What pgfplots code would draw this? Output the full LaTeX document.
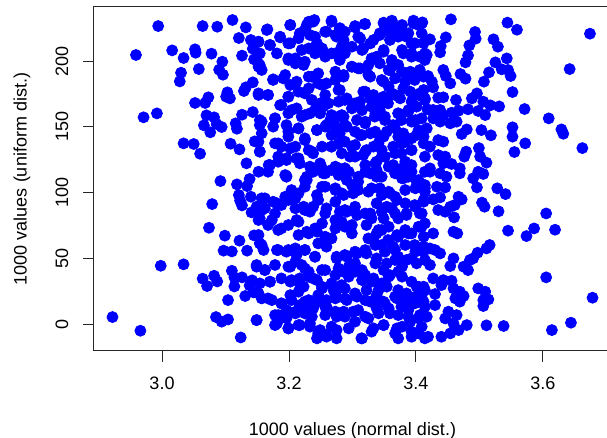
\documentclass[border=0pt]{standalone}
\usepackage{fontspec}
\setmainfont{Liberation Sans}
\usepackage{pgfplots}
\pgfplotsset{compat=1.18}

\begin{document}
\fontsize{9}{11}\selectfont
\begin{tikzpicture}
\begin{axis}[
    scale only axis,
    width=258.5pt, height=172pt,
    xmin=2.8929, xmax=3.7071,
    ymin=-20.5, ymax=241.1,
    axis line style={black!85, line width=0.5pt},
    tick style={black!85, line width=0.5pt},
    tick align=outside, tick pos=left,
    major tick length=5.5pt,
    xtick={3.0,3.2,3.4,3.6}, xticklabels={3.0,3.2,3.4,3.6},
    ytick={0,50,100,150,200}, yticklabels={0,50,100,150,200},
    x tick label style={anchor=center, yshift=-10.5pt},
    y tick label style={anchor=center, xshift=-10.5pt, rotate=90},
    xlabel={1000 values (normal dist.)},
    ylabel={1000 values (uniform dist.)},
    xlabel style={at={(axis description cs:0.5,0)}, anchor=center, yshift=-40pt},
    ylabel style={at={(axis description cs:0,0.5)}, anchor=center, yshift=36pt},
    clip=false,
]
\addplot[only marks, mark=*, mark size=2.75pt, draw=blue, fill=blue] coordinates {
% left, upper
(2.994,226.6) (3.064,226.6) (3.087,226.1) (3.111,231.2) (3.132,225.6) (3.121,217.5)
(3.140,216.0) (3.143,209.4) (2.959,204.6) (3.016,208.1) (3.034,202.3) (3.052,208.9)
(3.053,206.3) (3.078,205.6) (3.095,199.5) (3.126,204.1) (3.145,201.3) (3.030,191.1)
(3.028,184.5) (3.058,193.9) (3.090,193.4) (3.096,189.6) (3.143,183.8) (3.132,180.0)
(3.129,177.2) (3.103,176.2) (3.101,172.9) (3.107,171.6) (3.073,172.4) (3.068,168.1)
(3.052,168.1) (3.143,161.2) (3.126,159.2) (3.070,158.7) (3.082,157.2) (3.086,152.1)
(3.094,149.8) (3.066,151.1) (3.076,145.8) (3.116,152.6) (3.118,148.5) (2.971,157.2)
(2.992,160.2) (3.034,137.4) (3.050,136.9) (3.060,129.5) (3.108,137.1) (3.122,132.8)
(3.146,138.9) (3.133,122.2)
% left, lower
(3.092,108.7) (3.118,106.2) (3.134,104.9) (3.138,110.3) (3.121,98.1) (3.123,93.8)
(3.126,90.2) (3.140,96.8) (3.079,91.2) (3.141,84.9) (3.074,73.2) (3.099,67.2)
(3.122,63.4) (3.145,67.4) (3.097,55.8) (3.110,55.2) (3.134,55.8) (2.998,44.3)
(3.034,45.4) (3.064,34.5) (3.071,28.9) (3.082,36.7) (3.087,32.4) (3.110,40.5)
(3.114,35.5) (3.114,28.6) (3.126,35.5) (3.104,18.2) (3.131,21.3) (3.138,29.4)
(3.144,24.1) (3.142,33.2) (3.085,5.3) (3.094,1.8) (3.104,3.5) (3.124,-10.2)
(2.922,5.3) (2.966,-5.1)
% right, upper
(3.455,231.7) (3.410,229.4) (3.409,221.1) (3.422,216.5) (3.447,218.0) (3.439,211.4)
(3.438,206.6) (3.414,205.8) (3.414,200.8) (3.493,222.1) (3.494,217.0) (3.484,211.9)
(3.482,204.3) (3.478,199.0) (3.522,216.5) (3.529,210.9) (3.544,229.2) (3.559,223.8)
(3.674,220.8) (3.543,202.0) (3.525,199.0) (3.535,193.7) (3.545,193.2) (3.549,188.6)
(3.515,191.4) (3.507,184.3) (3.642,193.9) (3.443,193.2) (3.447,188.6) (3.454,183.0)
(3.470,190.1) (3.478,186.6) (3.419,188.6) (3.425,184.3) (3.427,180.0) (3.412,178.0)
(3.414,171.6) (3.435,172.1) (3.443,172.4) (3.463,170.4) (3.488,171.6) (3.496,175.4)
(3.506,169.1) (3.517,166.3) (3.531,165.5) (3.552,176.4) (3.571,163.5) (3.609,156.4)
(3.629,148.0) (3.632,144.7) (3.662,133.8) (3.418,163.3) (3.427,162.8) (3.438,162.8)
(3.443,158.9) (3.456,160.7) (3.467,162.2) (3.482,163.3) (3.498,162.0) (3.509,158.9)
(3.427,156.4) (3.438,153.9) (3.454,152.6) (3.464,153.9) (3.417,148.8) (3.412,142.5)
(3.422,134.9) (3.435,139.9) (3.443,138.7) (3.480,148.0) (3.472,144.5) (3.503,147.5)
(3.518,143.5) (3.552,149.6) (3.552,142.5) (3.572,137.4) (3.555,130.8) (3.499,133.8)
(3.501,127.3) (3.511,122.7) (3.479,131.1) (3.476,127.3) (3.435,128.5) (3.446,127.3)
(3.443,122.2) (3.456,121.7) (3.422,118.4) (3.469,118.4)
% right, lower
(3.422,115.8) (3.438,114.6) (3.448,112.0) (3.469,114.6) (3.490,110.8) (3.498,115.8)
(3.506,114.1) (3.414,105.7) (3.433,104.4) (3.446,103.9) (3.414,100.6) (3.496,103.9)
(3.528,103.2) (3.541,98.8) (3.412,93.0) (3.427,94.8) (3.438,96.3) (3.467,96.8)
(3.472,94.8) (3.435,86.7) (3.446,85.4) (3.454,89.2) (3.461,90.5) (3.460,81.1)
(3.504,92.3) (3.508,89.2) (3.530,85.7) (3.409,84.1) (3.414,76.5) (3.427,68.9)
(3.412,66.4) (3.459,70.2) (3.465,68.9) (3.545,71.0) (3.574,66.9) (3.586,72.7)
(3.605,84.1) (3.619,71.7) (3.516,60.1) (3.511,57.5) (3.497,54.2) (3.485,48.7)
(3.475,43.6) (3.482,41.0) (3.490,49.9) (3.459,49.9) (3.454,44.1) (3.438,53.7)
(3.430,56.3) (3.422,57.5) (3.412,58.8) (3.414,48.7) (3.422,44.9) (3.427,34.7)
(3.443,33.4) (3.456,32.9) (3.440,29.6) (3.412,28.4) (3.409,22.0) (3.430,22.8)
(3.459,27.1) (3.469,24.6) (3.475,21.3) (3.462,19.5) (3.469,17.0) (3.498,27.1)
(3.509,24.6) (3.506,18.2) (3.514,18.7) (3.506,13.7) (3.414,13.2) (3.417,5.6)
(3.430,14.4) (3.446,4.3) (3.451,9.4) (3.464,6.8) (3.459,0.5) (3.467,-4.6)
(3.480,-0.8) (3.454,-7.1) (3.440,-9.7) (3.419,-9.7) (3.511,-1.0) (3.538,-1.5)
(3.605,35.5) (3.678,20.0) (3.614,-4.6) (3.644,1.0)
% centre, upper
(3.166,224.1) (3.202,227.4) (3.231,229.9) (3.240,231.2) (3.267,230.7) (3.280,224.9)
(3.304,225.6) (3.319,228.1) (3.349,229.2) (3.362,230.7) (3.378,227.4) (3.396,230.7)
(3.404,227.4)
(3.152,214.7) (3.170,212.2) (3.186,218.0) (3.199,213.4) (3.217,221.1) (3.225,223.6)
(3.241,218.5) (3.257,222.3) (3.273,219.8) (3.286,216.0) (3.309,218.5) (3.328,213.4)
(3.343,221.1) (3.357,222.3) (3.372,218.5) (3.388,221.1) (3.393,213.4)
(3.149,200.8) (3.154,205.8) (3.181,205.8) (3.199,202.0) (3.220,208.4) (3.231,209.6)
(3.252,209.6) (3.267,205.8) (3.280,207.1) (3.299,210.9) (3.315,208.4) (3.330,202.0)
(3.349,208.4) (3.362,199.5) (3.378,208.4) (3.393,203.3)
(3.152,195.7) (3.157,193.2) (3.175,186.1) (3.194,189.4) (3.210,198.2) (3.223,197.0)
(3.236,188.1) (3.246,183.0) (3.273,191.9) (3.286,189.4) (3.299,195.7) (3.309,194.4)
(3.325,189.4) (3.346,185.6) (3.357,193.2) (3.378,191.9) (3.393,188.1) (3.404,190.6)
(3.152,174.2) (3.167,174.2) (3.186,166.5) (3.199,172.9) (3.215,176.7) (3.231,179.2)
(3.252,181.8) (3.257,174.2) (3.278,178.0) (3.291,171.6) (3.304,167.8) (3.320,176.7)
(3.328,171.6) (3.341,169.1) (3.357,180.5) (3.367,174.2) (3.380,179.2) (3.393,169.1)
(3.404,174.2)
(3.154,155.1) (3.178,156.4) (3.199,160.2) (3.212,164.0) (3.225,158.9) (3.241,162.7)
(3.254,165.3) (3.267,158.9) (3.283,158.9) (3.299,164.0) (3.315,162.7) (3.320,153.9)
(3.336,160.2) (3.351,157.7) (3.372,160.2) (3.388,162.7) (3.399,155.1)
(3.157,145.0) (3.175,150.1) (3.199,146.3) (3.215,148.8) (3.225,141.2) (3.244,147.5)
(3.259,151.3) (3.273,150.1) (3.288,151.3) (3.304,146.3) (3.315,143.7) (3.336,146.3)
(3.349,142.5) (3.367,148.8) (3.380,145.0) (3.393,141.2) (3.404,147.5)
(3.154,131.1) (3.178,137.4) (3.188,134.9) (3.202,133.6) (3.212,126.0) (3.236,131.1)
(3.252,134.9) (3.267,134.9) (3.283,129.8) (3.299,134.9) (3.304,127.3) (3.322,132.3)
(3.341,137.4) (3.346,127.3) (3.367,129.8) (3.378,137.4) (3.393,132.3)
(3.168,120.9) (3.183,123.4) (3.196,124.7) (3.217,122.2) (3.233,119.7) (3.252,118.4)
(3.273,119.7) (3.288,118.4) (3.320,120.9) (3.336,122.2) (3.357,119.7) (3.378,118.4)
(3.393,120.9)
% centre, lower
(3.152,115.8) (3.167,115.8) (3.196,112.5) (3.225,109.5) (3.238,115.8) (3.257,114.6)
(3.278,113.3) (3.294,115.8) (3.309,112.0) (3.328,114.6) (3.346,112.0) (3.367,114.6)
(3.378,110.8) (3.393,115.8) (3.404,109.5)
(3.157,95.6) (3.175,93.0) (3.194,96.8) (3.204,101.9) (3.215,99.4) (3.225,104.4)
(3.244,98.1) (3.257,104.4) (3.273,101.9) (3.283,99.4) (3.299,105.7) (3.309,101.9)
(3.330,103.2) (3.346,98.1) (3.357,100.6) (3.367,96.8) (3.383,101.9) (3.399,103.2)
(3.149,89.2) (3.162,88.0) (3.178,84.1) (3.188,90.5) (3.210,88.0) (3.225,86.7)
(3.238,89.2) (3.257,84.1) (3.273,79.1) (3.288,86.7) (3.304,89.2) (3.320,84.1)
(3.330,80.3) (3.346,85.4) (3.362,88.0) (3.372,80.3) (3.385,84.1) (3.399,89.2)
(3.152,79.1) (3.167,75.3) (3.183,71.5) (3.199,75.3) (3.215,77.8) (3.228,70.2)
(3.241,72.7) (3.252,76.5) (3.267,65.1) (3.288,74.0) (3.299,68.9) (3.325,65.1)
(3.341,71.5) (3.357,74.0) (3.372,66.4) (3.388,68.9) (3.404,74.0)
(3.154,61.3) (3.160,56.3) (3.183,56.3) (3.196,55.0) (3.210,57.5) (3.225,56.3)
(3.246,61.3) (3.275,49.9) (3.291,51.2) (3.304,55.0) (3.320,56.3) (3.336,60.1)
(3.351,55.0) (3.367,56.3) (3.383,60.1) (3.399,55.0)
(3.149,43.6) (3.162,41.0) (3.178,44.9) (3.199,43.6) (3.210,47.4) (3.225,42.3)
(3.241,51.2) (3.257,41.0) (3.278,42.3) (3.294,43.6) (3.304,46.1) (3.315,41.0)
(3.336,46.1) (3.349,41.0) (3.367,48.7) (3.378,43.6) (3.393,49.9)
(3.154,30.9) (3.170,32.2) (3.188,34.7) (3.204,33.4) (3.217,30.9) (3.231,36.0)
(3.244,33.4) (3.252,28.4) (3.267,30.9) (3.294,36.0) (3.315,33.4) (3.330,32.2)
(3.346,30.9) (3.357,36.0) (3.378,36.0) (3.393,32.2) (3.404,28.4)
(3.157,19.5) (3.173,18.2) (3.188,15.7) (3.202,22.0) (3.215,24.6) (3.225,17.0)
(3.246,22.0) (3.259,18.2) (3.273,23.3) (3.288,19.5) (3.304,23.3) (3.320,18.2)
(3.338,22.0) (3.349,17.0) (3.367,20.8) (3.383,19.5) (3.399,20.8)
(3.149,3.0) (3.178,6.8) (3.196,10.6) (3.210,8.1) (3.225,11.9) (3.236,5.6)
(3.257,13.2) (3.273,9.4) (3.288,5.6) (3.309,10.6) (3.325,4.3) (3.341,8.1)
(3.357,11.9) (3.372,6.8) (3.388,10.6) (3.404,4.3)
(3.181,0.5) (3.199,-3.3) (3.215,-0.8) (3.233,-2.0) (3.246,-7.1) (3.259,-8.4)
(3.275,-4.6) (3.294,-3.3) (3.304,1.8) (3.315,-10.9) (3.330,-5.8) (3.349,-0.8)
(3.367,-7.1) (3.378,-2.0) (3.393,-9.7) (3.404,-7.1)
};
% further points in the dense centre band
\addplot[only marks, mark=*, mark size=2.75pt, draw=blue, fill=blue] coordinates {
(3.165,223.6) (3.186,218.5) (3.202,227.4) (3.202,213.5) (3.215,217.3) (3.228,227.4)
(3.238,229.9) (3.233,219.8) (3.244,213.5) (3.259,222.3) (3.267,229.9) (3.275,218.5)
(3.280,224.9) (3.152,214.7) (3.170,212.2) (3.149,200.8) (3.154,197.0) (3.199,200.8)
(3.210,202.0) (3.225,199.5) (3.241,205.8) (3.257,203.3) (3.273,205.8) (3.280,200.8)
(3.175,185.6) (3.191,186.8) (3.202,181.8) (3.212,184.3) (3.231,188.1) (3.246,190.6)
(3.259,183.0) (3.273,185.6) (3.280,178.0) (3.152,175.4) (3.167,174.2) (3.199,172.9)
(3.225,175.4) (3.236,170.4) (3.249,167.8) (3.262,167.8) (3.278,169.1) (3.188,166.6)
(3.204,162.7) (3.220,157.7) (3.233,160.2) (3.249,160.2) (3.265,155.1) (3.278,157.7)
(3.157,153.9) (3.178,156.4) (3.196,151.3) (3.215,148.8) (3.244,147.5) (3.257,150.1)
(3.267,143.7) (3.280,145.0) (3.154,151.3) (3.152,138.7) (3.183,137.4) (3.199,142.5)
(3.210,134.9) (3.225,139.9) (3.238,129.8) (3.267,134.9) (3.278,137.4) (3.154,131.1)
(3.183,127.3) (3.196,126.0) (3.215,126.0) (3.231,132.3) (3.249,122.2) (3.267,117.1)
(3.278,118.4) (3.170,120.9) (3.194,113.3) (3.228,112.0) (3.254,114.6)
(3.304,226.6) (3.320,228.2) (3.349,228.7) (3.362,227.4) (3.377,226.1) (3.396,228.7)
(3.409,228.7) (3.288,222.3) (3.312,217.3) (3.333,216.0) (3.343,219.8) (3.359,216.0)
(3.372,221.1) (3.385,218.5) (3.398,213.5) (3.412,213.5) (3.283,210.9) (3.288,205.8)
(3.317,209.6) (3.338,203.3) (3.349,207.1) (3.362,200.8) (3.380,205.8) (3.393,205.8)
(3.406,203.3) (3.417,204.6) (3.299,195.7) (3.312,194.4) (3.325,197.0) (3.343,198.2)
(3.359,193.2) (3.372,197.0) (3.391,191.9) (3.406,193.2) (3.286,188.1) (3.328,188.1)
(3.349,184.3) (3.367,186.8) (3.383,184.3) (3.398,185.6) (3.412,188.1) (3.317,176.7)
(3.333,174.2) (3.349,172.9) (3.362,175.4) (3.375,171.6) (3.391,176.7) (3.406,175.4)
(3.288,170.4) (3.301,165.3) (3.312,169.1) (3.330,165.3) (3.343,162.7) (3.356,167.8)
(3.372,160.2) (3.388,161.5) (3.401,165.3) (3.414,170.4) (3.286,157.7) (3.307,155.1)
(3.320,152.6) (3.335,157.7) (3.351,155.1) (3.364,151.3) (3.377,155.1) (3.393,153.9)
(3.409,156.4) (3.291,150.1) (3.312,143.7) (3.328,145.0) (3.343,142.5) (3.354,146.3)
(3.372,142.5) (3.383,138.7) (3.401,143.7) (3.412,137.4) (3.288,138.7) (3.304,136.1)
(3.320,131.1) (3.333,134.9) (3.346,132.3) (3.364,134.9) (3.377,129.8) (3.393,132.3)
(3.414,127.3) (3.296,127.3) (3.317,128.5) (3.338,123.5) (3.351,127.3) (3.364,120.9)
(3.383,123.5) (3.288,118.4) (3.320,115.8) (3.338,117.1) (3.370,114.6) (3.388,112.0)
(3.414,115.8)
(3.196,112.0) (3.228,109.5) (3.252,104.4) (3.273,103.2) (3.162,95.6) (3.181,91.8)
(3.199,94.3) (3.210,95.6) (3.223,89.2) (3.233,85.4) (3.246,94.3) (3.259,88.0)
(3.273,93.0) (3.280,85.4) (3.157,86.7) (3.154,80.3) (3.173,79.1) (3.188,72.7)
(3.212,79.1) (3.215,67.7) (3.231,68.9) (3.244,70.2) (3.257,66.4) (3.273,72.7)
(3.283,77.8) (3.152,67.7) (3.157,60.1) (3.181,56.3) (3.199,56.3) (3.212,52.5)
(3.225,56.3) (3.241,51.2) (3.259,58.8) (3.275,51.2) (3.149,44.9) (3.162,41.1)
(3.202,43.6) (3.220,44.9) (3.231,39.8) (3.252,41.1) (3.273,37.2) (3.286,39.8)
(3.170,32.2) (3.202,32.2) (3.217,34.7) (3.223,28.4) (3.238,34.7) (3.252,27.1)
(3.270,25.8) (3.283,29.6) (3.152,23.3) (3.167,19.5) (3.188,15.7) (3.204,18.2)
(3.217,14.4) (3.231,18.2) (3.246,17.0) (3.259,13.2) (3.273,19.5) (3.149,3.0)
(3.183,6.8) (3.196,4.3) (3.210,9.4) (3.225,8.1) (3.238,11.9) (3.257,6.8)
(3.275,5.6) (3.178,-0.8) (3.199,-3.3) (3.217,-0.8) (3.233,0.5) (3.249,-4.6)
(3.267,-2.0) (3.244,-10.9) (3.259,-9.6) (3.275,-10.9)
(3.291,109.5) (3.309,108.2) (3.338,112.0) (3.380,110.8) (3.401,108.2) (3.414,103.2)
(3.286,98.1) (3.301,99.4) (3.325,100.6) (3.343,103.2) (3.359,99.4) (3.370,94.3)
(3.354,89.2) (3.338,91.8) (3.383,91.8) (3.398,90.5) (3.412,94.3) (3.291,85.4)
(3.307,82.9) (3.328,84.1) (3.349,80.3) (3.367,84.1) (3.385,82.9) (3.406,84.1)
(3.299,75.3) (3.322,75.3) (3.338,68.9) (3.346,71.5) (3.356,63.9) (3.370,67.7)
(3.383,71.5) (3.393,68.9) (3.409,74.0) (3.333,65.1) (3.346,60.1) (3.364,58.8)
(3.398,60.1) (3.412,55.0) (3.288,52.5) (3.307,53.7) (3.322,53.7) (3.338,49.9)
(3.354,46.1) (3.372,51.2) (3.385,48.7) (3.401,46.1) (3.291,39.8) (3.304,39.8)
(3.320,37.2) (3.333,34.7) (3.359,37.2) (3.372,39.8) (3.288,27.1) (3.322,25.8)
(3.341,25.8) (3.354,28.4) (3.372,25.8) (3.385,23.3) (3.401,28.4) (3.414,25.8)
(3.291,18.2) (3.307,20.8) (3.328,17.0) (3.338,19.5) (3.351,15.7) (3.370,19.5)
(3.383,17.0) (3.398,15.7) (3.412,17.0) (3.286,9.4) (3.301,9.4) (3.320,5.6)
(3.338,11.9) (3.359,8.1) (3.377,13.2) (3.388,5.6) (3.406,6.8) (3.333,-3.3)
(3.349,-0.8) (3.370,-3.3) (3.391,1.8) (3.409,-2.0) (3.314,-10.9) (3.372,-10.9)
(3.393,-5.8) (3.414,-10.9)
};
\end{axis}
\pgfresetboundingbox
\path[use as bounding box] ([xshift=-47pt,yshift=-43.5pt]current axis.south west) rectangle ([xshift=-2pt,yshift=3.5pt]current axis.north east);
\end{tikzpicture}
\end{document}
